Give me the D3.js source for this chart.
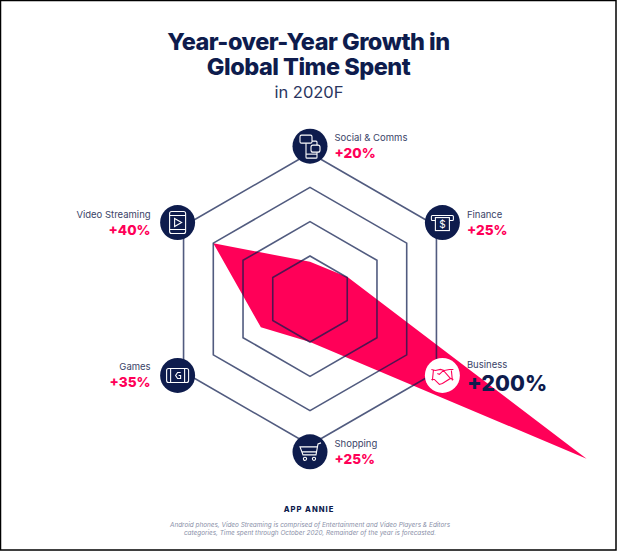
<!DOCTYPE html>
<html>
<head>
<meta charset="utf-8">
<script src="https://cdn.jsdelivr.net/npm/d3@7"></script>
<style>
  html, body { margin: 0; padding: 0; background: #fff; }
  svg { display: block; }
  text { font-family: Inter, "Noto Sans", sans-serif; }
</style>
</head>
<body>
<script>
const categories = ["Social & Comms", "Finance", "Business", "Shopping", "Games", "Video Streaming"];
const growth = [20, 25, 200, 25, 35, 40];
// how far out each vertex sits, in rings (not proportional to the labels)
const reach = [0.83, 1.02, 9.05, 1.0, 1.4, 3.0];
const rings = [1, 2, 3, 4];
const iconRing = 4.2;
const titleLines = ["Year-over-Year Growth in", "Global Time Spent"];
const subtitle = "in 2020F";
const brand = "APP ANNIE";
const notes = [
  "Android phones, Video Streaming is comprised of Entertainment and Video Players & Editors",
  "categories, Time spent through October 2020, Remainder of the year is forecasted."
];

const width = 617, height = 551;
const navy = "#0e1c4d", pink = "#ff0058", line = "#0e1c4d";
const cx = 310, cy = 299;

const svg = d3.select("body").append("svg")
  .attr("width", width)
  .attr("height", height)
  .attr("viewBox", `0 0 ${width} ${height}`);

svg.append("rect").attr("width", width).attr("height", height).attr("fill", "#fff");

const angle = d3.scalePoint().domain(categories).range([0, 2 * Math.PI * 5 / 6]);
const r = d3.scaleLinear().domain([1, 4]).range([43, 146]);

const radial = d3.lineRadial().curve(d3.curveLinearClosed);
const plot = svg.append("g").attr("transform", `translate(${cx},${cy})`);

plot.append("path")
  .attr("d", radial(categories.map((c, i) => [angle(c), r(reach[i])])))
  .attr("fill", pink);

plot.selectAll("path.ring")
  .data(rings)
  .join("path")
  .attr("class", "ring")
  .attr("d", d => radial(categories.map(c => [angle(c), r(d)])))
  .attr("fill", "none")
  .attr("stroke", line)
  .attr("stroke-opacity", 0.72)
  .attr("stroke-width", 1.6);

const px = c => Math.sin(angle(c)) * r(iconRing);
const py = c => -Math.cos(angle(c)) * r(iconRing);

const node = plot.selectAll("g.node")
  .data(categories)
  .join("g")
  .attr("class", "node")
  .attr("transform", c => `translate(${px(c)},${py(c)})`);

node.append("circle")
  .attr("r", 17.5)
  .attr("fill", c => c === "Business" ? "#fff" : navy);

// small line icons, one per category
const icons = {
  "Social & Comms": g => {
    g.append("rect").attr("x", -4).attr("y", -5).attr("width", 11).attr("height", 17).attr("rx", 1);
    g.append("path").attr("d", "M-4,8 H7");
    g.append("rect").attr("x", -10).attr("y", -11).attr("width", 12).attr("height", 8).attr("rx", 1.5).attr("fill", navy);
    g.append("rect").attr("x", 1).attr("y", -1).attr("width", 9).attr("height", 7).attr("rx", 2).attr("fill", navy);
  },
  "Finance": g => {
    g.append("rect").attr("x", -11).attr("y", -7).attr("width", 22).attr("height", 5).attr("rx", 1);
    g.append("rect").attr("x", -7).attr("y", -5).attr("width", 14).attr("height", 13).attr("fill", navy);
    g.append("text").attr("text-anchor", "middle").attr("y", 5).attr("font-size", 10).attr("fill", "#fff").attr("stroke", "none").text("$");
  },
  "Business": g => {
    g.append("path").attr("d", "M-11,-6 L-7,-5 L-2,-6 L2,-5 L7,-6 L11,-6 M-9,-5 L-10,5 M9,-5 L10,5 M-11,4 L-8,4 L-3,9 L0,8 L8,3 L11,4 M8,3 L1,-5 L-3,-1 L-5,-2");
  },
  "Shopping": g => {
    g.append("path").attr("d", "M11,-9 L8,-8 L6,3 L-7,3 L-10,-5 L7,-5 M-8,0 L7,0");
    g.append("circle").attr("cx", -5).attr("cy", 7).attr("r", 1.6);
    g.append("circle").attr("cx", 4).attr("cy", 7).attr("r", 1.6);
  },
  "Games": g => {
    g.append("rect").attr("x", -11).attr("y", -7).attr("width", 22).attr("height", 14).attr("rx", 2);
    g.append("path").attr("d", "M-7,-7 V7 M7,-7 V7 M3,-3 H0 L-2,0 L0,3 H3 V0 H1");
  },
  "Video Streaming": g => {
    g.append("rect").attr("x", -8).attr("y", -11).attr("width", 16).attr("height", 22).attr("rx", 2);
    g.append("path").attr("d", "M-8,-7 H8 M-8,7 H8 M-3,-4 L4,0 L-3,4 Z");
  }
};

node.append("g")
  .attr("fill", "none")
  .attr("stroke", c => c === "Business" ? pink : "#fff")
  .attr("stroke-width", 1.1)
  .each(function (c) { icons[c](d3.select(this)); });

const isLeft = c => Math.sin(angle(c)) < -0.01;
const offset = c => isLeft(c) ? -27 : 24.5;
const anchor = c => isLeft(c) ? "end" : "start";

node.append("text")
  .attr("x", offset)
  .attr("y", c => c === "Business" ? -7 : -5)
  .attr("text-anchor", anchor)
  .attr("font-size", 9.5)
  .attr("fill", "#3a4468")
  .text(c => c);

node.append("text")
  .attr("x", offset)
  .attr("y", c => c === "Business" ? 16 : 12)
  .attr("text-anchor", anchor)
  .attr("font-size", c => c === "Business" ? 21.6 : 13.6)
  .attr("font-weight", 800)
  .attr("fill", c => c === "Business" ? navy : pink)
  .text((c, i) => `+${growth[i]}%`);

svg.selectAll("text.title")
  .data(titleLines)
  .join("text")
  .attr("class", "title")
  .attr("x", 308.5)
  .attr("y", (d, i) => 50 + i * 25)
  .attr("text-anchor", "middle")
  .attr("font-size", 23.5)
  .attr("font-weight", 800)
  .attr("letter-spacing", -0.5)
  .attr("fill", navy)
  .text(d => d);

svg.append("text")
  .attr("x", 309).attr("y", 98)
  .attr("text-anchor", "middle")
  .attr("font-size", 16.5)
  .attr("fill", "#2a3560")
  .text(subtitle);

svg.append("text")
  .attr("x", 309).attr("y", 511.5)
  .attr("text-anchor", "middle")
  .attr("font-size", 7.6)
  .attr("font-weight", 800)
  .attr("letter-spacing", 1)
  .attr("fill", navy)
  .text(brand);

svg.selectAll("text.note")
  .data(notes)
  .join("text")
  .attr("class", "note")
  .attr("x", 310)
  .attr("y", (d, i) => 526.5 + i * 8.5)
  .attr("text-anchor", "middle")
  .attr("font-size", 6.4)
  .attr("font-style", "italic")
  .attr("fill", "#8a90a8")
  .text(d => d);

// photo frame around the picture
svg.append("rect")
  .attr("x", 0.5).attr("y", 0.5)
  .attr("width", width - 1.5).attr("height", height - 1.5)
  .attr("fill", "none")
  .attr("stroke", "#000")
  .attr("stroke-width", 1.5);
</script>
</body>
</html>
